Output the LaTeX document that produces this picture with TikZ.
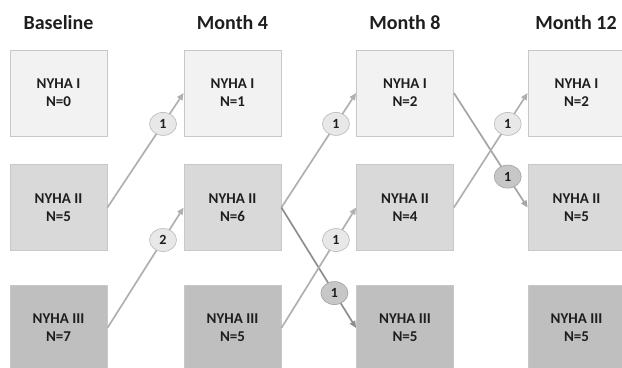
\documentclass[tikz,border=0pt]{standalone}
\usepackage{fontspec}
\setmainfont{Carlito}
\usetikzlibrary{arrows.meta,shapes.geometric}
\definecolor{rowA}{HTML}{F2F2F2}
\definecolor{rowB}{HTML}{D9D9D9}
\definecolor{rowC}{HTML}{BFBFBF}
\definecolor{boxline}{HTML}{C8C8C8}
\definecolor{upline}{HTML}{B0B0B0}
\definecolor{downline}{HTML}{8E8E8E}
\definecolor{txt}{HTML}{1E1E1E}
\begin{document}
\begin{tikzpicture}[x=1bp,y=-1bp,
  box/.style={draw=boxline,line width=0.8bp,minimum width=97bp,minimum height=86bp,inner sep=0pt,align=center,font=\fontsize{15bp}{18bp}\selectfont\bfseries,text=txt},
  title/.style={font=\fontsize{20bp}{22bp}\selectfont\bfseries,text=txt},
  up/.style={draw=upline,line width=1.7bp,-{Triangle[length=7bp,width=6bp]}},
  down/.style={draw=downline,line width=1.7bp,-{Triangle[length=7bp,width=6bp]}},
  lab/.style={ellipse,draw=black!25,line width=0.7bp,fill=black!9,minimum width=27bp,minimum height=23bp,inner sep=0pt,font=\fontsize{14bp}{14bp}\selectfont\bfseries,text=txt},
  labd/.style={lab,fill=black!22,draw=black!35}
]
\useasboundingbox (0,0) rectangle (622,367);
\node[title] (t0) at (58.5,23) {Baseline};
\node[title] (t1) at (232.5,23) {Month 4};
\node[title] (t2) at (405,23) {Month 8};
\node[title] (t3) at (576,23) {Month 12};

\node[box,fill=rowA] (a1) at (58.5,93) {NYHA I\\N=0};
\node[box,fill=rowB] (a2) at (58.5,207.5) {NYHA II\\N=5};
\node[box,fill=rowC] (a3) at (58.5,328) {NYHA III\\N=7};

\node[box,fill=rowA] (b1) at (232.5,93) {NYHA I\\N=1};
\node[box,fill=rowB] (b2) at (232.5,207.5) {NYHA II\\N=6};
\node[box,fill=rowC] (b3) at (232.5,328) {NYHA III\\N=5};

\node[box,fill=rowA] (c1) at (405,93) {NYHA I\\N=2};
\node[box,fill=rowB] (c2) at (405,207.5) {NYHA II\\N=4};
\node[box,fill=rowC] (c3) at (405,328) {NYHA III\\N=5};

\node[box,fill=rowA] (d1) at (576.5,93) {NYHA I\\N=2};
\node[box,fill=rowB] (d2) at (576.5,207.5) {NYHA II\\N=5};
\node[box,fill=rowC] (d3) at (576.5,328) {NYHA III\\N=5};

\draw[up] (a2.east) -- node[lab,pos=0.73] (l1) {1} (b1.west);
\draw[up] (a3.east) -- node[lab,pos=0.73] (l2) {2} (b2.west);
\draw[up] (b2.east) -- node[lab,pos=0.73] (l3) {1} (c1.west);
\draw[down] (b2.east) -- node[labd,pos=0.71] (l5) {1} (c3.west);
\draw[up] (b3.east) -- node[lab,pos=0.73] (l4) {1} (c2.west);
\draw[down,draw=downline!80!white] (c1.east) -- node[labd,pos=0.73] (l7) {1} (d2.west);
\draw[up] (c2.east) -- node[lab,pos=0.73] (l6) {1} (d1.west);
\end{tikzpicture}
\end{document}
